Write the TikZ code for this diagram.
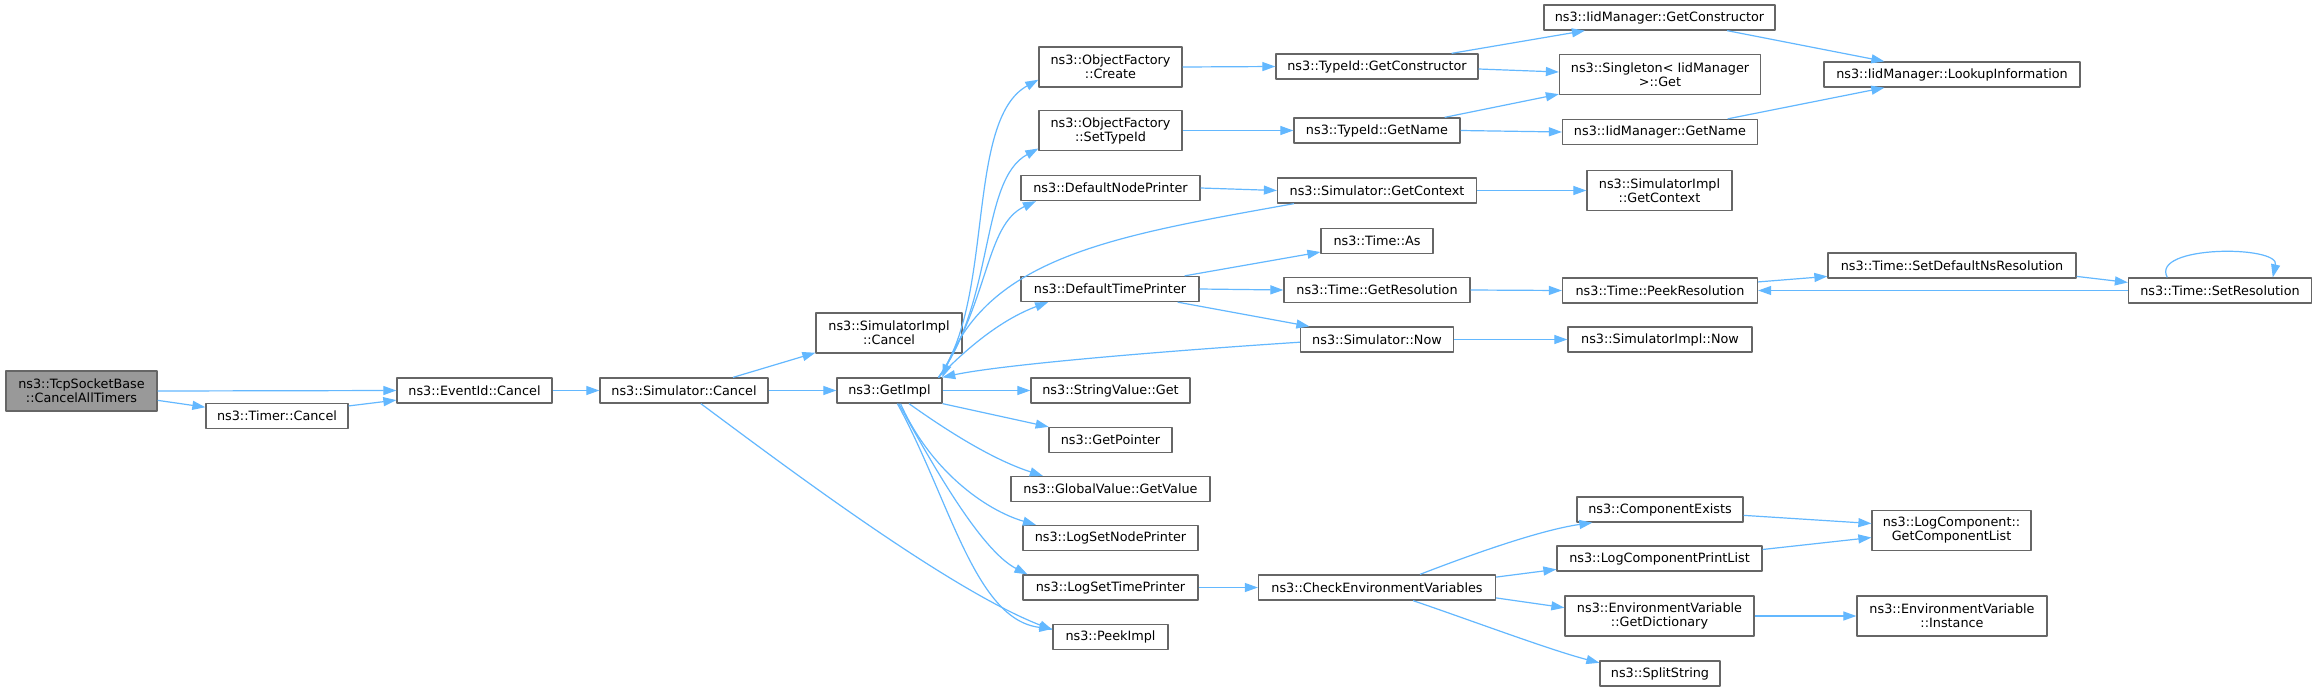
\documentclass[tikz,border=0pt]{standalone}
\usepackage{fontspec}
\setmainfont{DejaVu Sans}
\usepackage{tikz}
\usetikzlibrary{arrows.meta}
\definecolor{cgEdge}{HTML}{63B8FF}
\definecolor{cgFrame}{HTML}{666666}
\definecolor{cgRoot}{HTML}{999999}
\tikzset{
  cg diagram/.style={x=1pt, y=-1pt, font=\fontsize{12.8}{14}\selectfont,
    line join=round},
  cg box/.style={draw=cgFrame, fill=white, line width=1.3pt,
    inner sep=1pt, minimum height=25pt, align=center},
  cg tall/.style={cg box, minimum height=40pt},
  cg root/.style={cg tall, fill=cgRoot},
  cg arrow/.style={-{Triangle[length=13pt,width=9pt]}, draw=cgEdge,
    line width=1.2pt}
}
\begin{document}
\begin{tikzpicture}[cg diagram]
\fill[white] (0,0) rectangle (2317,691);
\useasboundingbox (0,0) rectangle (2317,691);
% callers
\node[cg root, minimum width=151pt] (tsb) at (81.5,391) {ns3::TcpSocketBase\\::CancelAllTimers};
\node[cg box, minimum width=142pt] (tmc) at (277,416) {ns3::Timer::Cancel};
\node[cg box, minimum width=155pt] (eic) at (474.5,390.5) {ns3::EventId::Cancel};
\node[cg box, minimum width=168pt] (sic) at (684,390.5) {ns3::Simulator::Cancel};
\node[cg tall, minimum width=146pt] (sim) at (889,333) {ns3::SimulatorImpl\\::Cancel};
\node[cg box, minimum width=105pt] (gi) at (889.5,390.5) {ns3::GetImpl};
% callees of GetImpl
\node[cg tall, minimum width=143pt] (ofc) at (1110.5,67) {ns3::ObjectFactory\\::Create};
\node[cg tall, minimum width=143pt] (ofs) at (1110.5,130.5) {ns3::ObjectFactory\\::SetTypeId};
\node[cg box, minimum width=179pt] (dnp) at (1110.5,188) {ns3::DefaultNodePrinter};
\node[cg box, minimum width=178pt] (dtp) at (1110,289) {ns3::DefaultTimePrinter};
\node[cg box, minimum width=159pt] (svg) at (1110.5,390.5) {ns3::StringValue::Get};
\node[cg box, minimum width=123pt] (gp) at (1110.5,440) {ns3::GetPointer};
\node[cg box, minimum width=199pt] (ggv) at (1110.5,489) {ns3::GlobalValue::GetValue};
\node[cg box, minimum width=175pt] (lsnp) at (1110.5,538) {ns3::LogSetNodePrinter};
\node[cg box, minimum width=175pt] (lstp) at (1110.5,587.5) {ns3::LogSetTimePrinter};
\node[cg box, minimum width=115pt] (pki) at (1110.5,637) {ns3::PeekImpl};
% third rank
\node[cg box, minimum width=202pt] (tgc) at (1377,66.5) {ns3::TypeId::GetConstructor};
\node[cg box, minimum width=166pt] (tgn) at (1377,130.5) {ns3::TypeId::GetName};
\node[cg box, minimum width=199pt] (sgc) at (1377,190.5) {ns3::Simulator::GetContext};
\node[cg box, minimum width=112pt] (tas) at (1377,241) {ns3::Time::As};
\node[cg box, minimum width=186pt] (tgr) at (1377,290) {ns3::Time::GetResolution};
\node[cg box, minimum width=153pt] (snw) at (1377,339.5) {ns3::Simulator::Now};
\node[cg box, minimum width=237pt] (cev) at (1377,587.5) {ns3::CheckEnvironmentVariables};
% fourth rank
\node[cg box, minimum width=231pt] (igc) at (1659.5,17.5) {ns3::IidManager::GetConstructor};
\node[cg tall, minimum width=201pt] (sng) at (1660,74.5) {ns3::Singleton< IidManager\\>::Get};
\node[cg box, minimum width=195pt] (ign) at (1660,132) {ns3::IidManager::GetName};
\node[cg tall, minimum width=145pt] (sgx) at (1659.5,190.5) {ns3::SimulatorImpl\\::GetContext};
\node[cg box, minimum width=195pt] (tpr) at (1660,290.5) {ns3::Time::PeekResolution};
\node[cg box, minimum width=184pt] (sin) at (1660,339.5) {ns3::SimulatorImpl::Now};
\node[cg box, minimum width=166pt] (cex) at (1660,509.5) {ns3::ComponentExists};
\node[cg box, minimum width=205pt] (lcp) at (1659.5,558.5) {ns3::LogComponentPrintList};
\node[cg tall, minimum width=189pt] (evd) at (1659.5,616) {ns3::EnvironmentVariable\\::GetDictionary};
\node[cg box, minimum width=120pt] (sps) at (1660,673.5) {ns3::SplitString};
% fifth and sixth rank
\node[cg box, minimum width=256pt] (lki) at (1952,74.5) {ns3::IidManager::LookupInformation};
\node[cg box, minimum width=248pt] (sdn) at (1952,265.5) {ns3::Time::SetDefaultNsResolution};
\node[cg tall, minimum width=159pt] (lcg) at (1951.5,530.5) {ns3::LogComponent::\\GetComponentList};
\node[cg tall, minimum width=190pt] (evi) at (1952,616) {ns3::EnvironmentVariable\\::Instance};
\node[cg box, minimum width=183pt] (tsr) at (2220,290.5) {ns3::Time::SetResolution};
% edges
\draw[cg arrow] (tsb.east) -- (eic.west);
\draw[cg arrow] (tsb.-7) -- (tmc.173);
\draw[cg arrow] (tmc.8) -- (eic.187);
\draw[cg arrow] (eic.east) -- (sic.west);
\draw[cg arrow] (sic.east) -- (gi.west);
\draw[cg arrow] (sic.15) -- (sim.195);
\draw[cg arrow] (sic.-38) .. controls (790,470) and (950,590) .. (pki.173);
\draw[cg arrow] (gi.15) .. controls (995,300) and (965,120) .. (ofc.190);
\draw[cg arrow] (gi.15) .. controls (995,300) and (980,180) .. (ofs.194);
\draw[cg arrow] (gi.15) .. controls (990,300) and (985,225) .. (dnp.190);
\draw[cg arrow] (gi.15) .. controls (965,350) and (1000,320) .. (dtp.192);
\draw[cg arrow] (gi.east) -- (svg.west);
\draw[cg arrow] (gi.south east) -- (gp.168);
\draw[cg arrow] (gi.-34) .. controls (960,440) and (1000,462) .. (ggv.169);
\draw[cg arrow] (gi.-50) .. controls (930,470) and (985,510) .. (lsnp.170);
\draw[cg arrow] (gi.-55) .. controls (930,460) and (980,550) .. (lstp.171);
\draw[cg arrow] (gi.-59) .. controls (950,500) and (975,620) .. (pki.172);
\draw[cg arrow] (sgc.189) .. controls (1120,235) and (990,255) .. (gi.14);
\draw[cg arrow] (snw.182) .. controls (1150,352) and (1000,365) .. (gi.14);
\draw[cg arrow] (ofc.east) -- (tgc.west);
\draw[cg arrow] (ofs.east) -- (tgn.west);
\draw[cg arrow] (tgc.10) -- (igc.190);
\draw[cg arrow] ([yshift=-2.5pt]tgc.east) -- ([yshift=2.5pt]sng.west);
\draw[cg arrow] (tgn.11) -- (sng.191);
\draw[cg arrow] (tgn.east) -- (ign.west);
\draw[cg arrow] (igc.-11) -- (lki.169);
\draw[cg arrow] (ign.11) -- (lki.191);
\draw[cg arrow] (dnp.east) -- (sgc.west);
\draw[cg arrow] (sgc.east) -- (sgx.west);
\draw[cg arrow] (dtp.10.5) -- (tas.191);
\draw[cg arrow] (dtp.east) -- (tgr.west);
\draw[cg arrow] (dtp.-11) -- (snw.169);
\draw[cg arrow] (tgr.east) -- (tpr.west);
\draw[cg arrow] (snw.east) -- (sin.west);
\draw[cg arrow] (tpr.5) -- (sdn.185);
\draw[cg arrow] (sdn.-5) -- (tsr.175);
\draw[cg arrow] (tsr.west) -- (tpr.east);
\draw[cg arrow] (tsr.166) .. controls (2150,245) and (2280,245) .. (tsr.14);
\draw[cg arrow] (lstp.east) -- (cev.west);
\draw[cg arrow] (cev.17) .. controls (1470,555) and (1540,530) .. (cex.191);
\draw[cg arrow] (cev.5) -- (lcp.186);
\draw[cg arrow] (cev.-5.5) -- (evd.175);
\draw[cg arrow] (cev.-20) .. controls (1470,620) and (1550,650) .. (sps.170);
\draw[cg arrow] (cex.-4) -- (lcg.175);
\draw[cg arrow] (lcp.5.6) -- (lcg.185);
\draw[cg arrow] (evd.east) -- (evi.west);
\end{tikzpicture}
\end{document}
